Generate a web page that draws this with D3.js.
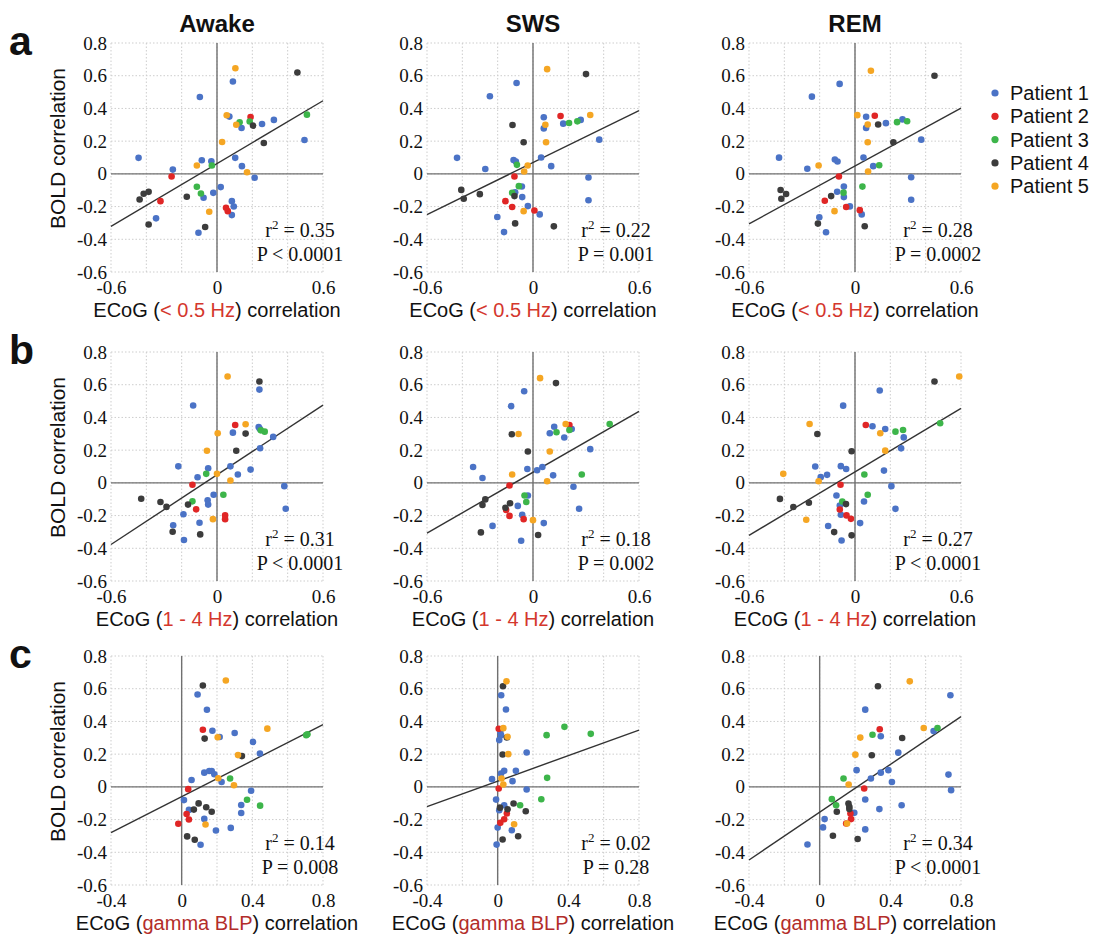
<!DOCTYPE html>
<html>
<head>
<meta charset="utf-8">
<script src="https://cdn.jsdelivr.net/npm/d3@7/dist/d3.min.js"></script>
<style>
  html, body { margin: 0; padding: 0; background: #fff; }
  svg { display: block; }
</style>
</head>
<body>
<svg id="chart" width="1097" height="938"></svg>
<script>
// ---- labels ----
const states = ["Awake", "SWS", "REM"];
const rowLetters = ["a", "b", "c"];
const bandLabels = ["< 0.5 Hz", "1 - 4 Hz", "gamma BLP"];
const patients = ["Patient 1", "Patient 2", "Patient 3", "Patient 4", "Patient 5"];
const patientColors = ["#4b73c6", "#e02626", "#3db54a", "#3c3c3c", "#f5a623"];
const yTicks = [-0.6, -0.4, -0.2, 0, 0.2, 0.4, 0.6, 0.8];
const xTicksAB = [-0.6, 0, 0.6];
const xTicksC = [-0.4, 0, 0.4, 0.8];

// ---- points: [ECoG correlation, BOLD correlation, patient] ----
const aAwake = [
  [-0.097,0.47,1],[0.09,0.565,1],[-0.444,0.098,1],[-0.25,0.026,1],[-0.086,0.083,1],[-0.032,0.077,1],
  [0.07,0.35,1],[0.139,0.28,1],[0.255,0.305,1],[0.322,0.33,1],[0.495,0.207,1],[0.103,0.098,1],
  [0.141,0.047,1],[0.213,-0.024,1],[-0.021,-0.116,1],[0.021,-0.081,1],[-0.076,-0.146,1],[0.084,-0.167,1],
  [0.095,-0.2,1],[0.084,-0.252,1],[-0.345,-0.272,1],[-0.105,-0.36,1],
  [-0.257,-0.016,2],[-0.32,-0.167,2],[0.051,-0.207,2],[0.061,-0.228,2],[0.19,0.348,2],
  [-0.029,0.051,3],[-0.114,-0.079,3],[-0.091,-0.12,3],[0.128,0.315,3],[0.185,0.32,3],[0.509,0.362,3],
  [-0.438,-0.157,4],[-0.415,-0.122,4],[-0.387,-0.11,4],[-0.387,-0.31,4],[-0.171,-0.14,4],[-0.067,-0.325,4],
  [0.204,0.295,4],[0.265,0.189,4],[0.455,0.62,4],
  [-0.114,0.051,5],[0.029,0.195,5],[0.055,0.358,5],[0.109,0.3,5],[0.17,0.01,5],[-0.044,-0.232,5],[0.104,0.646,5]
];
const aSWS = [
  [-0.244,0.474,1],[-0.093,0.555,1],[-0.43,0.098,1],[-0.27,0.03,1],[-0.11,0.085,1],[-0.097,0.075,1],
  [0.061,0.346,1],[0.061,0.278,1],[0.171,0.307,1],[0.27,0.33,1],[0.375,0.209,1],[0.046,0.1,1],
  [0.103,0.047,1],[0.314,-0.022,1],[0.314,-0.161,1],[-0.063,-0.077,1],[-0.101,-0.112,1],[-0.061,-0.142,1],
  [-0.029,-0.197,1],[0.038,-0.248,1],[-0.202,-0.264,1],[-0.164,-0.356,1],
  [-0.105,-0.016,2],[-0.156,-0.167,2],[-0.118,-0.203,2],[0.008,-0.224,2],[0.156,0.354,2],
  [-0.091,0.055,3],[-0.08,-0.075,3],[-0.118,-0.116,3],[0.204,0.311,3],[0.251,0.321,3],
  [-0.116,0.299,4],[-0.053,0.193,4],[-0.406,-0.098,4],[-0.392,-0.152,4],[-0.301,-0.124,4],[-0.105,-0.136,4],
  [-0.101,-0.303,4],[0.118,-0.321,4],[0.3,0.61,4],
  [-0.03,0.051,5],[-0.05,0.014,5],[0.07,0.3,5],[0.074,0.193,5],[0.324,0.36,5],[-0.053,-0.228,5],[0.08,0.64,5]
];
const aREM = [
  [-0.244,0.472,1],[-0.087,0.55,1],[-0.43,0.099,1],[-0.27,0.031,1],[-0.114,0.088,1],[-0.099,0.076,1],
  [0.063,0.349,1],[0.063,0.281,1],[0.175,0.31,1],[0.269,0.333,1],[0.375,0.209,1],[0.048,0.1,1],
  [0.103,0.047,1],[0.318,-0.021,1],[0.318,-0.158,1],[-0.063,-0.078,1],[-0.101,-0.109,1],[-0.063,-0.142,1],
  [-0.029,-0.199,1],[0.038,-0.248,1],[-0.202,-0.265,1],[-0.164,-0.357,1],
  [-0.091,-0.016,2],[-0.171,-0.164,2],[-0.05,-0.203,2],[0.027,-0.222,2],[0.112,0.355,2],
  [-0.065,-0.115,3],[0.042,-0.078,3],[0.137,0.053,3],[0.238,0.316,3],[0.295,0.322,3],
  [-0.421,-0.099,4],[-0.417,-0.152,4],[-0.39,-0.123,4],[-0.135,-0.136,4],[-0.21,-0.304,4],[0.055,-0.32,4],
  [0.131,0.302,4],[0.217,0.193,4],[0.45,0.6,4],
  [-0.206,0.051,5],[0.074,0.014,5],[0.013,0.359,5],[0.072,0.302,5],[0.072,0.193,5],[-0.116,-0.228,5],[0.09,0.63,5]
];
const bAwake = [
  [-0.135,0.473,1],[0.24,0.57,1],[-0.219,0.101,1],[-0.11,0.034,1],[-0.05,0.089,1],[0.076,0.101,1],
  [0.09,0.307,1],[0.236,0.341,1],[0.242,0.331,1],[0.318,0.281,1],[0.244,0.212,1],[0.118,0.051,1],
  [0.19,0.081,1],[0.381,-0.02,1],[0.389,-0.158,1],[-0.019,-0.073,1],[-0.053,-0.107,1],[-0.05,-0.133,1],
  [-0.19,-0.192,1],[-0.099,-0.244,1],[-0.248,-0.259,1],[-0.187,-0.349,1],
  [-0.139,-0.012,2],[-0.118,-0.162,2],[0.046,-0.198,2],[0.046,-0.222,2],[0.103,0.354,2],
  [-0.061,0.055,3],[-0.139,-0.113,3],[0.036,-0.073,3],[0.248,0.321,3],[0.27,0.313,3],
  [-0.429,-0.097,4],[-0.32,-0.117,4],[-0.286,-0.147,4],[-0.164,-0.133,4],[-0.251,-0.299,4],[-0.095,-0.315,4],
  [0.109,0.196,4],[0.162,0.301,4],[0.24,0.62,4],
  [-0.057,0.196,5],[0,0.055,5],[0.004,0.303,5],[0.162,0.358,5],[0.076,0.014,5],[-0.023,-0.222,5],[0.06,0.65,5]
];
const bSWS = [
  [-0.124,0.469,1],[-0.05,0.56,1],[-0.339,0.097,1],[-0.286,0.03,1],[-0.032,0.085,1],[0.023,0.077,1],
  [0.053,0.097,1],[0.095,0.303,1],[0.12,0.343,1],[0.177,0.277,1],[0.219,0.329,1],[0.324,0.206,1],
  [0.114,0.046,1],[0.229,-0.024,1],[0.261,-0.158,1],[-0.029,-0.077,1],[-0.086,-0.141,1],[-0.061,-0.196,1],
  [0.061,-0.246,1],[-0.229,-0.263,1],[-0.067,-0.354,1],
  [-0.133,-0.016,2],[-0.133,-0.202,2],[-0.053,-0.222,2],[-0.152,-0.166,2],[0.206,0.354,2],
  [-0.048,-0.077,3],[-0.038,-0.117,3],[0.133,0.309,3],[0.206,0.323,3],[0.276,0.051,3],[0.434,0.36,3],
  [-0.12,0.297,4],[-0.029,0.192,4],[-0.27,-0.101,4],[-0.286,-0.135,4],[-0.156,-0.152,4],[-0.13,-0.125,4],
  [-0.295,-0.303,4],[0.029,-0.319,4],[0.13,0.61,4],
  [-0.082,0.299,5],[-0.118,0.051,5],[0.095,0.192,5],[0.08,0.01,5],[0.185,0.36,5],[0,-0.228,5],[0.04,0.64,5]
];
const bREM = [
  [-0.067,0.472,1],[0.14,0.565,1],[-0.225,0.1,1],[-0.194,0.035,1],[-0.158,0.049,1],[-0.08,0.102,1],
  [-0.05,0.085,1],[0.099,0.346,1],[0.171,0.329,1],[0.276,0.278,1],[0.261,0.211,1],[0.164,0.075,1],
  [0.206,-0.02,1],[0.229,-0.159,1],[-0.105,-0.077,1],[-0.086,-0.138,1],[-0.08,-0.195,1],[0.051,-0.114,1],
  [0.029,-0.246,1],[-0.152,-0.264,1],[-0.076,-0.352,1],
  [0.061,0.354,2],[-0.082,-0.012,2],[-0.086,-0.163,2],[-0.048,-0.199,2],[-0.023,-0.22,2],
  [0.053,0.051,3],[0.072,-0.073,3],[-0.072,-0.114,3],[0.229,0.313,3],[0.272,0.323,3],[0.482,0.364,3],
  [-0.213,0.299,4],[-0.019,0.193,4],[-0.425,-0.098,4],[-0.349,-0.148,4],[-0.261,-0.122,4],[-0.051,-0.13,4],
  [-0.118,-0.301,4],[-0.019,-0.321,4],[0.45,0.62,4],
  [-0.257,0.36,5],[0.143,0.303,5],[0.171,0.197,5],[-0.406,0.055,5],[-0.206,0.01,5],[-0.276,-0.226,5],[0.59,0.65,5]
];
const cAwake = [
  [0.143,0.471,1],[0.09,0.565,1],[0.056,0.042,1],[0.128,0.087,1],[0.156,0.097,1],[0.17,0.097,1],
  [0.185,0.077,1],[0.226,0.03,1],[0.174,0.343,1],[0.215,0.305,1],[0.3,0.329,1],[0.404,0.275,1],
  [0.443,0.204,1],[0.393,-0.024,1],[0.337,-0.111,1],[0.337,-0.16,1],[0.013,-0.081,1],[0.041,-0.141,1],
  [0.128,-0.196,1],[0.194,-0.267,1],[0.278,-0.251,1],[0.107,-0.354,1],
  [0.037,-0.014,2],[0.12,0.349,2],[0.028,-0.166,2],[0.041,-0.2,2],[-0.019,-0.226,2],
  [0.274,0.051,3],[0.37,-0.079,3],[0.444,-0.115,3],[0.705,0.316,3],[0.712,0.322,3],
  [0.13,0.295,4],[0.341,0.188,4],[0.069,-0.139,4],[0.096,-0.101,4],[0.139,-0.125,4],[0.17,-0.152,4],
  [0.031,-0.303,4],[0.074,-0.323,4],[0.12,0.62,4],
  [0.204,0.303,5],[0.319,0.194,5],[0.207,0.053,5],[0.296,0.01,5],[0.485,0.356,5],[0.135,-0.23,5],[0.25,0.65,5]
];
const cSWS = [
  [0.047,0.473,1],[0.02,0.56,1],[0.015,0.337,1],[0.019,0.316,1],[0.009,0.286,1],[0.019,0.082,1],
  [0.037,0.098,1],[0.103,0.098,1],[0.084,0.035,1],[-0.032,0.047,1],[0.164,0.21,1],[0.164,-0.016,1],
  [-0.009,-0.078,1],[0.037,-0.112,1],[0.009,-0.143,1],[0,-0.249,1],[0.08,-0.265,1],[-0.006,-0.353,1],
  [0.006,0.355,2],[0.006,-0.01,2],[0.015,-0.22,2],[0.037,-0.198,2],[0.052,-0.163,2],
  [0.277,0.316,3],[0.378,0.367,3],[0.527,0.324,3],[0.28,0.055,3],[0.247,-0.076,3],[0.127,-0.112,3],
  [0.052,0.302,4],[0.028,0.198,4],[0.013,-0.127,4],[0.056,-0.137,4],[0.09,-0.102,4],[0.159,-0.149,4],
  [0.028,-0.322,4],[0.116,-0.302,4],[0.03,0.615,4],
  [0.032,0.359,5],[0.056,0.306,5],[0.06,0.2,5],[0.022,0.051,5],[0.032,0.014,5],[0.093,-0.229,5],[0.05,0.645,5]
];
const cREM = [
  [0.258,0.472,1],[0.74,0.56,1],[0.346,0.309,1],[0.445,0.209,1],[0.645,0.341,1],[0.209,0.102,1],
  [0.29,0.051,1],[0.346,0.087,1],[0.389,0.102,1],[0.409,0.03,1],[0.729,0.075,1],[0.744,-0.02,1],
  [0.258,-0.077,1],[0.338,-0.136,1],[0.464,-0.112,1],[0.196,-0.159,1],[0.028,-0.197,1],[0.019,-0.248,1],
  [0.258,-0.26,1],[-0.069,-0.352,1],
  [0.34,0.352,2],[0.252,-0.01,2],[0.174,-0.163,2],[0.178,-0.197,2],[0.15,-0.224,2],
  [0.299,0.319,3],[0.667,0.36,3],[0.135,0.051,3],[0.069,-0.075,3],[0.093,-0.112,3],
  [0.295,0.193,4],[0.467,0.299,4],[0.163,-0.102,4],[0.168,-0.122,4],[0.168,-0.136,4],[0.097,-0.152,4],
  [0.075,-0.299,4],[0.215,-0.319,4],[0.33,0.615,4],
  [0.23,0.301,5],[0.202,0.197,5],[0.164,0.014,5],[0.589,0.36,5],[0.155,-0.224,5],[0.51,0.645,5]
];

// ---- fits and statistics, row by row (Awake, SWS, REM) ----
const fitSlopes = [[0.64, 0.53, 0.59], [0.71, 0.62, 0.647], [0.55, 0.39, 0.73]];
const fitIntercepts = [[0.063, 0.069, 0.048], [0.049, 0.065, 0.067], [-0.06, 0.035, -0.155]];
const rSquared = [["0.35", "0.22", "0.28"], ["0.31", "0.18", "0.27"], ["0.14", "0.02", "0.34"]];
const pValues = [["P < 0.0001", "P = 0.001", "P = 0.0002"], ["P < 0.0001", "P = 0.002", "P < 0.0001"], ["P = 0.008", "P = 0.28", "P < 0.0001"]];

const panelPoints = [[aAwake, aSWS, aREM], [bAwake, bSWS, bREM], [cAwake, cSWS, cREM]];

// ---- layout ----
const SANS = "'Liberation Sans', Arial, Helvetica, sans-serif";
const SERIF = "'Liberation Serif', 'Times New Roman', Times, serif";
const colLeft = [111, 427, 749];
const rowTop = [43, 352, 656];
const panelW = 212, panelH = 229;
const bandColors = ["#d4372d", "#d4372d", "#b32d2a"];

const svg = d3.select("#chart");
const fmt = d => String(+d.toFixed(1));

// column titles
states.forEach((s, c) => {
  svg.append("text")
    .attr("x", colLeft[c] + panelW / 2).attr("y", 32)
    .attr("text-anchor", "middle")
    .attr("font-family", SANS).attr("font-weight", "bold").attr("font-size", 24)
    .attr("fill", "#111").text(s);
});

rowLetters.forEach((letter, r) => {
  svg.append("text")
    .attr("x", 9).attr("y", rowTop[r] + 12)
    .attr("font-family", SANS).attr("font-weight", "bold").attr("font-size", 41)
    .attr("fill", "#111").text(letter);
});

for (let r = 0; r < 3; r++) {
  for (let c = 0; c < 3; c++) {
    const left = colLeft[c], top = rowTop[r];
    const xDomain = r < 2 ? [-0.6, 0.6] : [-0.4, 0.8];
    const x = d3.scaleLinear().domain(xDomain).range([left, left + panelW]);
    const y = d3.scaleLinear().domain([-0.6, 0.8]).range([top + panelH, top]);
    const g = svg.append("g");

    // dotted grid
    const xGrid = d3.range(xDomain[0], xDomain[1] + 0.001, 0.2).map(v => +v.toFixed(1));
    g.selectAll(".vg").data(xGrid).join("line")
      .attr("x1", d => x(d)).attr("x2", d => x(d))
      .attr("y1", y(0.8)).attr("y2", y(-0.6))
      .attr("stroke", "#cdcdcd").attr("stroke-width", 1).attr("stroke-dasharray", "1.5,2");
    g.selectAll(".hg").data(yTicks).join("line")
      .attr("x1", x(xDomain[0])).attr("x2", x(xDomain[1]))
      .attr("y1", d => y(d)).attr("y2", d => y(d))
      .attr("stroke", "#cdcdcd").attr("stroke-width", 1).attr("stroke-dasharray", "1.5,2");

    // zero axes
    g.append("line")
      .attr("x1", x(0)).attr("x2", x(0)).attr("y1", y(0.8)).attr("y2", y(-0.6))
      .attr("stroke", "#707070").attr("stroke-width", 1.4);
    g.append("line")
      .attr("x1", x(xDomain[0])).attr("x2", x(xDomain[1])).attr("y1", y(0)).attr("y2", y(0))
      .attr("stroke", "#707070").attr("stroke-width", 1.4);

    // tick labels
    const yAxis = g.append("g").attr("transform", `translate(${left},0)`)
      .call(d3.axisLeft(y).tickValues(yTicks).tickSize(0).tickPadding(4).tickFormat(fmt));
    const xAxis = g.append("g").attr("transform", `translate(0,${top + panelH})`)
      .call(d3.axisBottom(x).tickValues(r < 2 ? xTicksAB : xTicksC).tickSize(0).tickPadding(8.5).tickFormat(fmt));
    [yAxis, xAxis].forEach(ax => {
      ax.select(".domain").remove();
      ax.selectAll("text").attr("font-family", SERIF).attr("font-size", 19).attr("fill", "#111");
    });

    // regression line
    const slope = fitSlopes[r][c], icpt = fitIntercepts[r][c];
    g.append("line")
      .attr("x1", x(xDomain[0])).attr("y1", y(icpt + slope * xDomain[0]))
      .attr("x2", x(xDomain[1])).attr("y2", y(icpt + slope * xDomain[1]))
      .attr("stroke", "#333").attr("stroke-width", 1.4);

    // points
    g.selectAll(".pt").data(panelPoints[r][c]).join("circle")
      .attr("cx", d => x(d[0])).attr("cy", d => y(d[1])).attr("r", 3.3)
      .attr("fill", d => patientColors[d[2] - 1]);

    // statistics
    const sx = left + 189;
    const rt = g.append("text").attr("x", sx).attr("y", top + panelH - 35)
      .attr("text-anchor", "middle").attr("font-family", SERIF).attr("font-size", 20).attr("fill", "#111");
    rt.append("tspan").text("r");
    rt.append("tspan").attr("dy", -8).attr("font-size", 13).text("2");
    rt.append("tspan").attr("dy", 8).text(" = " + rSquared[r][c]);
    g.append("text").attr("x", sx).attr("y", top + panelH - 11)
      .attr("text-anchor", "middle").attr("font-family", SERIF).attr("font-size", 20).attr("fill", "#111")
      .text(pValues[r][c]);

    // axis titles
    const xt = g.append("text").attr("x", left + panelW / 2).attr("y", top + panelH + 45)
      .attr("text-anchor", "middle").attr("font-family", SANS).attr("font-size", 20).attr("fill", "#111");
    xt.append("tspan").text("ECoG (");
    xt.append("tspan").attr("fill", bandColors[r]).text(bandLabels[r]);
    xt.append("tspan").text(") correlation");

    if (c === 0) {
      g.append("text")
        .attr("transform", `translate(65,${top + panelH / 2 - 9}) rotate(-90)`)
        .attr("text-anchor", "middle").attr("font-family", SANS).attr("font-size", 21).attr("fill", "#111")
        .text("BOLD correlation");
    }
  }
}

// legend
const legend = svg.append("g");
patients.forEach((p, i) => {
  const ly = 93 + i * 23.3;
  legend.append("circle").attr("cx", 995).attr("cy", ly).attr("r", 3.6).attr("fill", patientColors[i]);
  legend.append("text").attr("x", 1010).attr("y", ly).attr("dy", "0.35em")
    .attr("font-family", SANS).attr("font-size", 20).attr("fill", "#111").text(p);
});
</script>
</body>
</html>
